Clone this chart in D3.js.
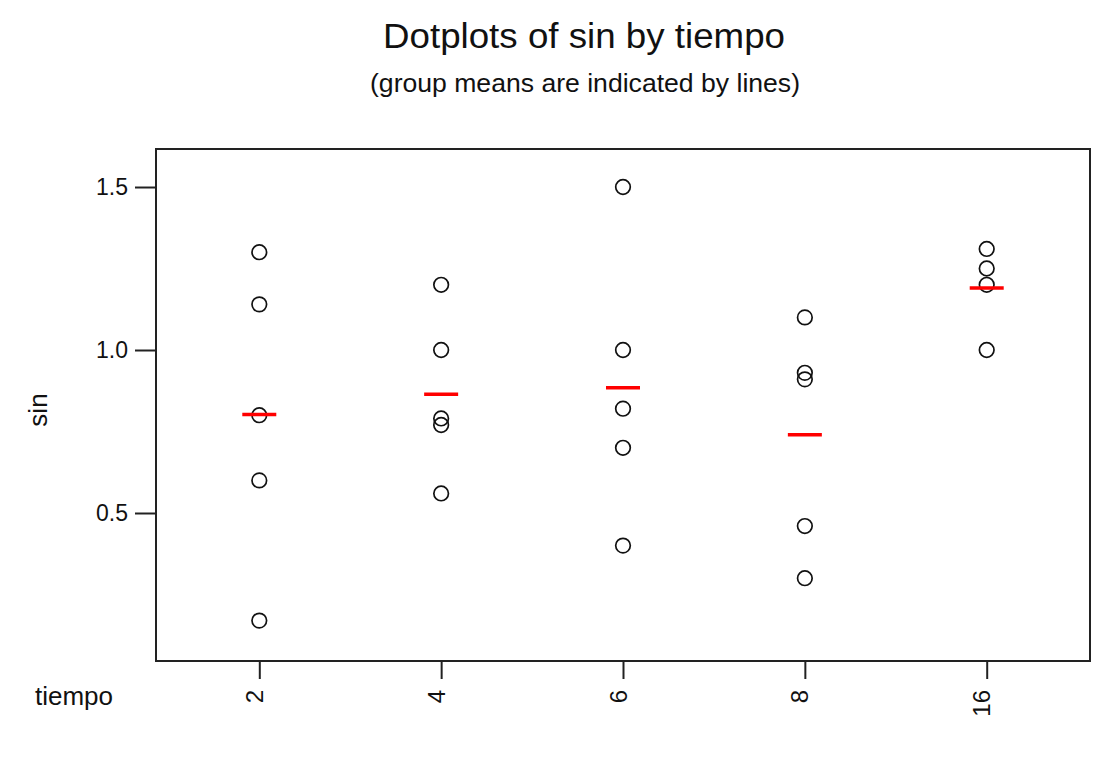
<!DOCTYPE html>
<html>
<head>
<meta charset="utf-8">
<script src="https://cdn.jsdelivr.net/npm/d3@7"></script>
<style>
  html, body { margin: 0; padding: 0; background: #fff; }
  svg { display: block; }
  text { font-family: "Liberation Sans", Arial, sans-serif; fill: #111; }
</style>
</head>
<body>
<svg id="chart" width="1116" height="758"></svg>
<script>
// ---- data ----
const categories = ["2", "4", "6", "8", "16"];
const sin2  = [1.30, 1.14, 0.80, 0.60, 0.17];
const sin4  = [1.20, 1.00, 0.79, 0.77, 0.56];
const sin6  = [1.50, 1.00, 0.82, 0.70, 0.40];
const sin8  = [1.10, 0.93, 0.91, 0.46, 0.30];
const sin16 = [1.31, 1.25, 1.20, 1.00];
const yTicks = [0.5, 1.0, 1.5];
const titleText = "Dotplots of sin by tiempo";
const subtitleText = "(group means are indicated by lines)";
const xTitle = "tiempo";
const yTitle = "sin";

const groups = [sin2, sin4, sin6, sin8, sin16];
const points = [];
categories.forEach((c, i) => groups[i].forEach(v => points.push({cat: c, value: v})));
const means = categories.map((c, i) => ({cat: c, value: d3.mean(groups[i])}));

// ---- layout ----
const svg = d3.select("#chart");
const L = 156, R = 1090, T = 149, B = 661;

const x = d3.scalePoint().domain(categories).range([L, R]).padding(0.568);
const y = d3.scaleLinear().domain([0.0460, 1.6166]).range([B, T]);

// frame
svg.append("rect")
  .attr("x", L).attr("y", T).attr("width", R - L).attr("height", B - T)
  .attr("fill", "none").attr("stroke", "#222").attr("stroke-width", 2);

// y axis
const yAxis = svg.append("g").attr("transform", `translate(${L},0)`)
  .call(d3.axisLeft(y).tickValues(yTicks).tickFormat(d3.format(".1f")).tickSize(21).tickPadding(7));
yAxis.select(".domain").remove();
yAxis.selectAll(".tick line").attr("stroke", "#222").attr("stroke-width", 2);
yAxis.selectAll(".tick text")
  .style("font-family", '"Liberation Sans", Arial, sans-serif')
  .style("font-size", "23px").attr("fill", "#111");

// x axis
const xAxis = svg.append("g").attr("transform", `translate(0,${B})`)
  .call(d3.axisBottom(x).tickSize(18).tickPadding(0));
xAxis.select(".domain").remove();
xAxis.selectAll(".tick line").attr("stroke", "#222").attr("stroke-width", 2);
xAxis.selectAll(".tick text")
  .style("font-family", '"Liberation Sans", Arial, sans-serif')
  .style("font-size", "24px").attr("fill", "#111")
  .attr("text-anchor", "end")
  .attr("dy", null)
  .attr("y", 0)
  .attr("transform", "translate(3,29) rotate(-90)");

// points
svg.append("g").selectAll("circle").data(points).join("circle")
  .attr("cx", d => x(d.cat)).attr("cy", d => y(d.value))
  .attr("r", 7.3)
  .attr("fill", "none").attr("stroke", "#111").attr("stroke-width", 1.7);

// mean lines
svg.append("g").selectAll("line").data(means).join("line")
  .attr("x1", d => x(d.cat) - 17).attr("x2", d => x(d.cat) + 17)
  .attr("y1", d => y(d.value)).attr("y2", d => y(d.value))
  .attr("stroke", "#ff0000").attr("stroke-width", 3.5);

// titles
svg.append("text").attr("x", 584).attr("y", 48).attr("text-anchor", "middle")
  .style("font-size", "35px").attr("textLength", 402).attr("lengthAdjust", "spacingAndGlyphs")
  .text(titleText);
svg.append("text").attr("x", 585).attr("y", 92).attr("text-anchor", "middle")
  .style("font-size", "26px").attr("textLength", 430).attr("lengthAdjust", "spacingAndGlyphs")
  .text(subtitleText);

// axis titles
svg.append("text").attr("x", 35).attr("y", 705).attr("text-anchor", "start")
  .style("font-size", "26px").text(xTitle);
svg.append("text").attr("transform", "translate(47,410) rotate(-90)")
  .attr("text-anchor", "middle").style("font-size", "26px").text(yTitle);
</script>
</body>
</html>
